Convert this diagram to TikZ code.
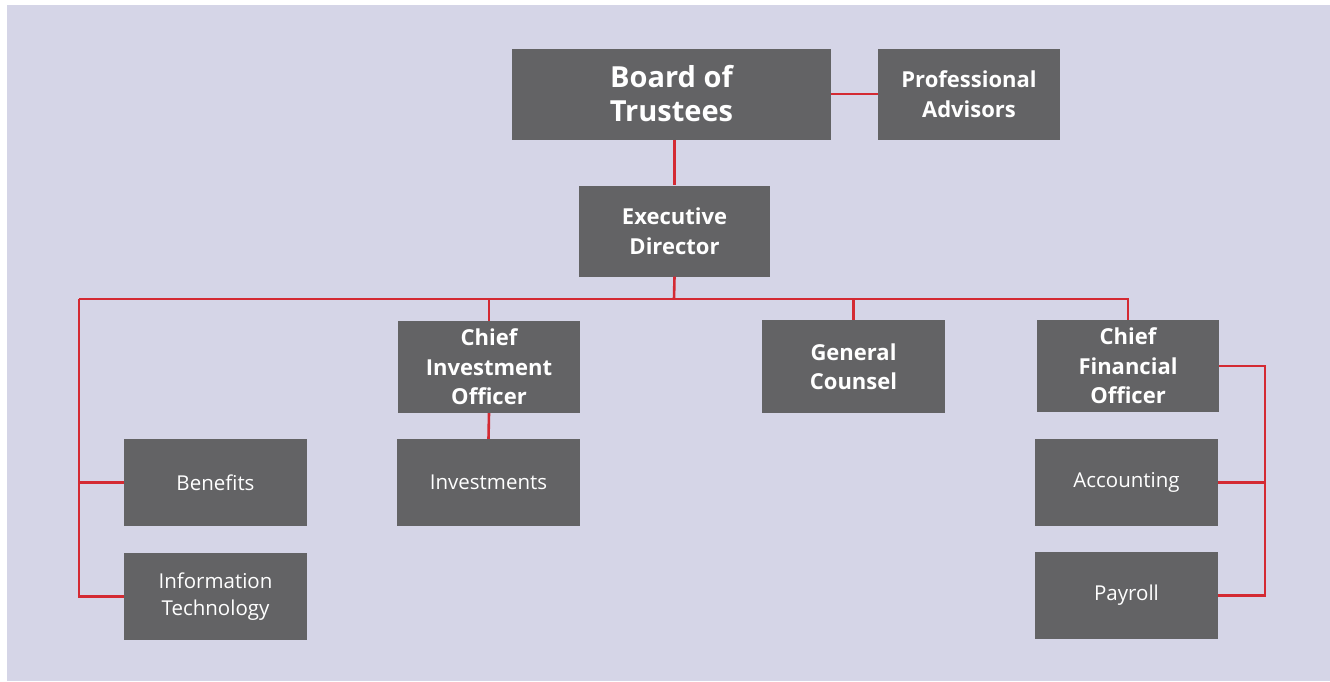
\documentclass[tikz,border=0pt]{standalone}
\usepackage{fontspec}
\setmainfont{Open Sans}
\usepackage{tikz}

\definecolor{lavender}{HTML}{D5D5E7}
\definecolor{boxgrey}{HTML}{636365}
\definecolor{linkred}{HTML}{D42A33}

\tikzset{
	unit/.style={fill=boxgrey, text=white, align=center, inner sep=0pt, minimum width=183pt, minimum height=87pt, font=\fontsize{20.5}{27}\selectfont},
	head/.style={unit, minimum height=92pt, font=\bfseries\fontsize{22}{29.5}\selectfont},
	link/.style={linkred, line width=2.6pt}
}

\begin{document}
\begin{tikzpicture}[x=1pt, y=-1pt]
	\useasboundingbox (0, 0) rectangle (1330, 681);
	\fill[white] (0, 0) rectangle (1330, 681);
	\fill[lavender] (7, 5) rectangle (1330, 681);
	%%
	\node[head, minimum width=319pt, minimum height=91pt, font=\bfseries\fontsize{29}{34}\selectfont] (board) at (671.5, 94) {Board of\\Trustees};
	\node[head, minimum width=182pt, minimum height=91pt] (advisors) at (969, 94) {Professional\\Advisors};
	\node[head, minimum width=191pt, minimum height=91pt] (exec) at (674.5, 231) {Executive\\Director};
	%%
	\node[head, minimum width=182pt] (cio) at (489, 367) {Chief\\Investment\\Officer};
	\node[head, minimum width=183pt, minimum height=93pt] (counsel) at (853.5, 366.5) {General\\Counsel};
	\node[head, minimum width=182pt] (cfo) at (1128, 366) {Chief\\Financial\\Officer};
	%%
	\node[unit] (benefits) at (215.5, 482.5) {Benefits};
	\node[unit] (infotech) at (215.5, 596.5) {Information\\Technology};
	\node[unit] (invest) at (488.5, 482.5) {Investments};
	\node[unit] (accounting) at (1126.5, 482.5) {Accounting};
	\node[unit] (payroll) at (1126.5, 595.5) {Payroll};
	%%
	\coordinate (bus) at (674, 299);
	\coordinate (leftrail) at (79, 299);
	\coordinate (rightrail) at (1265, 367);
	%%
	\draw[link] (board.east) -- (advisors.west);
	\draw[link] (board.south -| exec) -- (exec.north);
	\draw[link] (exec.south) -- (bus);
	\draw[link] (leftrail) -- (bus -| cfo) -- (cfo.north);
	\draw[link] (bus -| cio) -- (cio.north);
	\draw[link] (bus -| counsel) -- (counsel.north);
	\draw[link] (cio.south) -- (invest.north);
	%%
	\draw[link] (leftrail) -- (leftrail |- infotech) -- (infotech.west);
	\draw[link] (leftrail |- benefits) -- (benefits.west);
	%%
	\draw[link] (cfo.east) -- (rightrail |- cfo) -- (rightrail |- payroll) -- (payroll.east);
	\draw[link] (rightrail |- accounting) -- (accounting.east);
\end{tikzpicture}
\end{document}
